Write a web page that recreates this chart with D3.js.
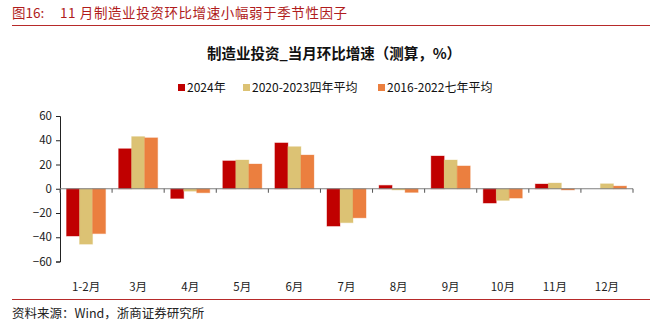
<!DOCTYPE html>
<html>
<head>
<meta charset="utf-8">
<script src="https://d3js.org/d3.v7.min.js"></script>
<style>
  body { margin: 0; background: #fff; }
  svg text { font-family: "Noto Sans CJK SC", "Liberation Sans", sans-serif; white-space: pre; }
</style>
</head>
<body>
<div id="viz"></div>
<script>
// monthly manufacturing investment, m/m change (%)
var months = ["1-2月", "3月", "4月", "5月", "6月", "7月", "8月", "9月", "10月", "11月", "12月"];
var seriesNames = ["2024年", "2020-2023四年平均", "2016-2022七年平均"];
var s2024 = [-39, 33, -8, 23, 37.8, -30.8, 2.8, 27, -11.8, 3.9, 0];
var sAvg4 = [-45.7, 43, -2, 23.7, 34.7, -28, -1, 23.7, -9.6, 4.7, 4.1];
var sAvg7 = [-37, 42, -3.3, 20.4, 27.8, -24, -3, 18.8, -7.7, -1, 2.2];
var yTicks = [60, 40, 20, 0, -20, -40, -60];
var colors = ["#c00000", "#dcc274", "#eb7f3f"];

var W = 669, H = 335;
var svg = d3.select("#viz").append("svg").attr("width", W).attr("height", H);

// header
svg.append("text").attr("x", 12).attr("y", 18)
  .attr("fill", "#b01c1c").attr("font-size", 13.5)
  .text("图16:");
svg.append("text").attr("x", 60).attr("y", 18)
  .attr("fill", "#b01c1c").attr("font-size", 13.5).attr("letter-spacing", 0.6)
  .text("11 月制造业投资环比增速小幅弱于季节性因子");
svg.append("line").attr("x1", 12).attr("x2", 650).attr("y1", 25.5).attr("y2", 25.5)
  .attr("stroke", "#b72a2a").attr("stroke-width", 1);

// chart title
svg.append("text").attr("x", 334).attr("y", 59).attr("text-anchor", "middle")
  .attr("font-size", 14.5).attr("font-weight", "bold").attr("fill", "#111")
  .text("制造业投资_当月环比增速（测算，%）");

// legend
var legendX = [178, 243, 378];
var lg = svg.selectAll("g.lg").data(seriesNames).enter().append("g")
  .attr("transform", function(d, i) { return "translate(" + legendX[i] + ",88)"; });
lg.append("rect").attr("x", 0).attr("y", -4).attr("width", 7).attr("height", 7)
  .attr("fill", function(d, i) { return colors[i]; });
lg.append("text").attr("x", 9).attr("y", 4).attr("font-size", 12).attr("fill", "#111")
  .text(function(d) { return d; });

// scales
var x = d3.scaleBand().domain(months).range([60, 633]);
var y = d3.scaleLinear().domain([-60, 60]).range([261.5, 116]);
var inner = d3.scaleBand().domain([0, 1, 2]).range([0, x.bandwidth()]).paddingOuter(0.5).paddingInner(0);

// y axis
var yAxis = svg.append("g").attr("transform", "translate(60,0)")
  .call(d3.axisLeft(y).tickValues(yTicks).tickSize(4).tickPadding(4).tickFormat(function(d) { return d < 0 ? "−" + (-d) : d; }));
yAxis.select(".domain").attr("stroke", "#222");
yAxis.selectAll(".tick line").attr("stroke", "#222");
yAxis.selectAll("text").attr("font-size", 11.5).attr("fill", "#222")
  .attr("font-family", "'Liberation Sans', Arial, sans-serif");

// bars
var seriesData = [s2024, sAvg4, sAvg7];
seriesData.forEach(function(vals, si) {
  svg.append("g").selectAll("rect").data(vals).enter().append("rect")
    .attr("x", function(d, i) { return x(months[i]) + inner(si); })
    .attr("width", inner.bandwidth())
    .attr("y", function(d) { return y(Math.max(0, d)); })
    .attr("height", function(d) { return Math.abs(y(d) - y(0)); })
    .attr("fill", colors[si])
    .attr("stroke", colors[si]).attr("stroke-opacity", 0.35).attr("stroke-width", 1);
});

// zero line with category ticks
var xAxis = svg.append("g").attr("transform", "translate(0," + y(0) + ")");
xAxis.append("line").attr("x1", 60).attr("x2", 633).attr("stroke", "#7f7f7f").attr("stroke-width", 1);
xAxis.selectAll("line.tk").data(months.concat(["end"])).enter().append("line")
  .attr("class", "tk")
  .attr("x1", function(d, i) { return 60 + i * x.step(); })
  .attr("x2", function(d, i) { return 60 + i * x.step(); })
  .attr("y1", 0).attr("y2", 4).attr("stroke", "#555");

// category labels
svg.append("g").selectAll("text").data(months).enter().append("text")
  .attr("x", function(d) { return x(d) + x.bandwidth() / 2; })
  .attr("y", 291).attr("text-anchor", "middle")
  .attr("font-size", 11.5).attr("fill", "#222")
  .text(function(d) { return d; });

// footer
svg.append("line").attr("x1", 12).attr("x2", 650).attr("y1", 299.5).attr("y2", 299.5)
  .attr("stroke", "#b72a2a").attr("stroke-width", 1);
svg.append("text").attr("x", 12).attr("y", 318).attr("font-size", 12.5).attr("fill", "#222")
  .text("资料来源：Wind，浙商证券研究所");
</script>
</body>
</html>
